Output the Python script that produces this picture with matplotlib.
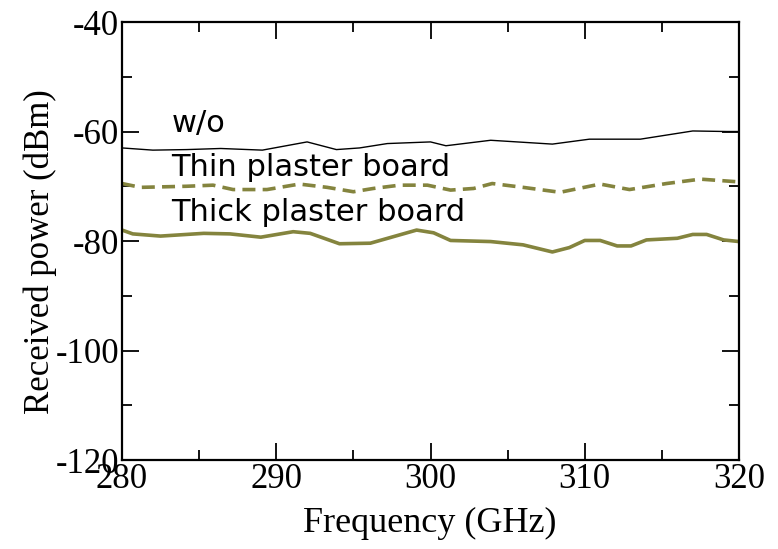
import matplotlib
matplotlib.use("Agg")
import matplotlib.pyplot as plt
from matplotlib.ticker import MultipleLocator

# values (GHz, dBm)
freq_wo = [280, 282.0, 284.2, 286.4, 289.1, 292.0, 293.9, 295.4, 297.2, 300.0,
           301.0, 303.9, 307.9, 310.3, 313.6, 317.0, 319.2, 320]
power_wo = [-63.0, -63.4, -63.3, -63.1, -63.4, -61.9, -63.3, -63.0, -62.2, -61.9,
            -62.6, -61.6, -62.3, -61.4, -61.4, -59.9, -60.0, -60.0]

freq_thin = [280, 281.2, 284.2, 285.9, 287.2, 289.4, 291.5, 293.3, 295.0, 296.3,
             298.0, 299.8, 301.3, 302.8, 304.0, 306.0, 308.4, 311.0, 312.9,
             315.3, 317.5, 320]
power_thin = [-69.5, -70.2, -70.0, -69.8, -70.6, -70.6, -69.6, -70.2, -71.0, -70.4,
              -69.8, -69.8, -70.7, -70.4, -69.5, -70.2, -71.1, -69.6, -70.6,
              -69.5, -68.7, -69.2]

freq_thick = [280, 280.7, 282.5, 285.3, 287.0, 289.0, 291.1, 292.2, 294.1, 296.1,
              297.6, 299.1, 300.2, 301.3, 303.9, 306.0, 307.9, 309.0, 310.0,
              311.0, 312.1, 313.0, 314.0, 316.0, 317.0, 317.9, 319.0, 320]
power_thick = [-78.0, -78.7, -79.1, -78.6, -78.7, -79.3, -78.3, -78.6, -80.5, -80.4,
               -79.2, -78.0, -78.5, -79.9, -80.1, -80.7, -82.0, -81.2, -79.9,
               -79.9, -80.9, -80.9, -79.8, -79.5, -78.8, -78.8, -79.8, -80.1]

labels = ["w/o", "Thin plaster board", "Thick plaster board"]
label_y = [-61.2, -69.3, -77.5]

olive = "#84843e"
plt.rcParams["axes.unicode_minus"] = False

fig = plt.figure(figsize=(7.78, 5.49), dpi=100)
ax = fig.add_axes([0.1568, 0.1621, 0.7931, 0.7978])

ax.plot(freq_wo, power_wo, color="black", lw=1.0)
ax.plot(freq_thin, power_thin, color=olive, lw=2.6, dashes=(3.6, 2.0))
ax.plot(freq_thick, power_thick, color=olive, lw=2.6)

for txt, yv in zip(labels, label_y):
    ax.text(283.2, yv, txt, fontsize=22, family="DejaVu Sans",
            ha="left", va="bottom")

ax.set_xlim(280, 320)
ax.set_ylim(-120, -40)
ax.xaxis.set_major_locator(MultipleLocator(10))
ax.xaxis.set_minor_locator(MultipleLocator(5))
ax.yaxis.set_major_locator(MultipleLocator(20))
ax.yaxis.set_minor_locator(MultipleLocator(10))
ax.tick_params(which="both", direction="in", top=True, right=True, width=1.3)
ax.tick_params(which="major", length=12, pad=2)
ax.tick_params(which="minor", length=7)
for sp in ax.spines.values():
    sp.set_linewidth(1.6)

for lab in ax.get_xticklabels() + ax.get_yticklabels():
    lab.set_family("Liberation Serif")
    lab.set_fontsize(25)

ax.set_xlabel("Frequency (GHz)", fontsize=26, family="Liberation Serif", va="center")
ax.set_ylabel("Received power (dBm)", fontsize=25, family="Liberation Serif", va="center")
ax.xaxis.set_label_coords(0.499, -0.144)
ax.yaxis.set_label_coords(-0.133, 0.475)

fig.savefig("out.png", dpi=100)
